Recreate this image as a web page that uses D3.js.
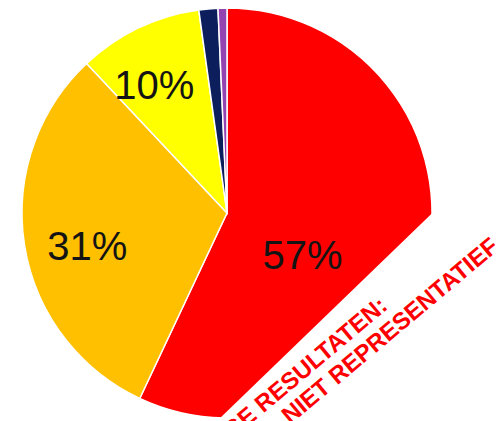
<!DOCTYPE html>
<html>
<head>
<meta charset="utf-8">
<script src="https://cdn.jsdelivr.net/npm/d3@7"></script>
<style>
	body { margin: 0; background: #fff; }
	svg { display: block; }
</style>
</head>
<body>
<div id="chart"></div>
<script>
// slices, clockwise from 12 o'clock
var categories = ['rood', 'oranje', 'geel', 'donkerblauw', 'paars'];
var values = [57, 31, 9.8, 1.5, 0.7];
var labels = ['57%', '31%', '10%', '', ''];
var colors = ['#ff0000', '#ffc000', '#ffff00', '#0c1f5c', '#9444b0'];

// overlay stamp text
var stampLines = ['VOORLOPIGE RESULTATEN:', 'NIET REPRESENTATIEF'];

var width = 503,
	height = 421;

var svg = d3
	.select('#chart')
	.append('svg')
	.attr('width', width)
	.attr('height', height);

var cx = 227,
	cy = 213,
	radius = 205;

var dataset = categories.map(function(c, i) {
	return { name: c, value: values[i], label: labels[i], color: colors[i] };
});

var pie = d3
	.pie()
	.sort(null)
	.value(function(d) {
		return d.value;
	});

var arc = d3.arc().innerRadius(0).outerRadius(radius);

var g = svg.append('g').attr('transform', 'translate(' + cx + ',' + cy + ')');

var arcs = pie(dataset);

g.selectAll('path')
	.data(arcs)
	.enter()
	.append('path')
	.attr('d', arc)
	.attr('fill', function(d) {
		return d.data.color;
	})
	.attr('stroke', '#fff')
	.attr('stroke-width', 1.5);

// label placement (angle offset in degrees, radius fraction) - excel "best fit" look
var labelPlace = [[16, 0.42], [-4, 0.7], [-4, 0.72]];

g.selectAll('text.lbl')
	.data(arcs.filter(function(d) {
		return d.data.label;
	}))
	.enter()
	.append('text')
	.attr('class', 'lbl')
	.attr('transform', function(d, i) {
		var a = (d.startAngle + d.endAngle) / 2 + (labelPlace[i][0] * Math.PI) / 180;
		var p = d3.pointRadial(a, radius * labelPlace[i][1]);
		return 'translate(' + p[0] + ',' + p[1] + ')';
	})
	.attr('text-anchor', 'middle')
	.attr('dy', '0.36em')
	.attr('font-family', 'Liberation Sans, Arial, sans-serif')
	.attr('font-size', 40)
	.attr('fill', '#141414')
	.text(function(d) {
		return d.data.label;
	});

// white diagonal band covering the bottom right
svg.append('g')
	.attr('transform', 'translate(363,280) rotate(-44)')
	.append('rect')
	.attr('x', -700)
	.attr('y', 0)
	.attr('width', 1400)
	.attr('height', 500)
	.attr('fill', '#fff');

var stamp = svg.append('g').attr('transform', 'translate(389,308) rotate(-40)');

stamp
	.selectAll('text')
	.data(stampLines)
	.enter()
	.append('text')
	.attr('x', function(d, i) {
		return i === 0 ? 0 : 123;
	})
	.attr('y', function(d, i) {
		return i * 26;
	})
	.attr('text-anchor', 'end')
	.attr('font-family', 'Liberation Sans, Arial, sans-serif')
	.attr('font-weight', 'bold')
	.attr('font-size', 24)
	.attr('fill', '#ff0000')
	.text(function(d) {
		return d;
	});
</script>
</body>
</html>
